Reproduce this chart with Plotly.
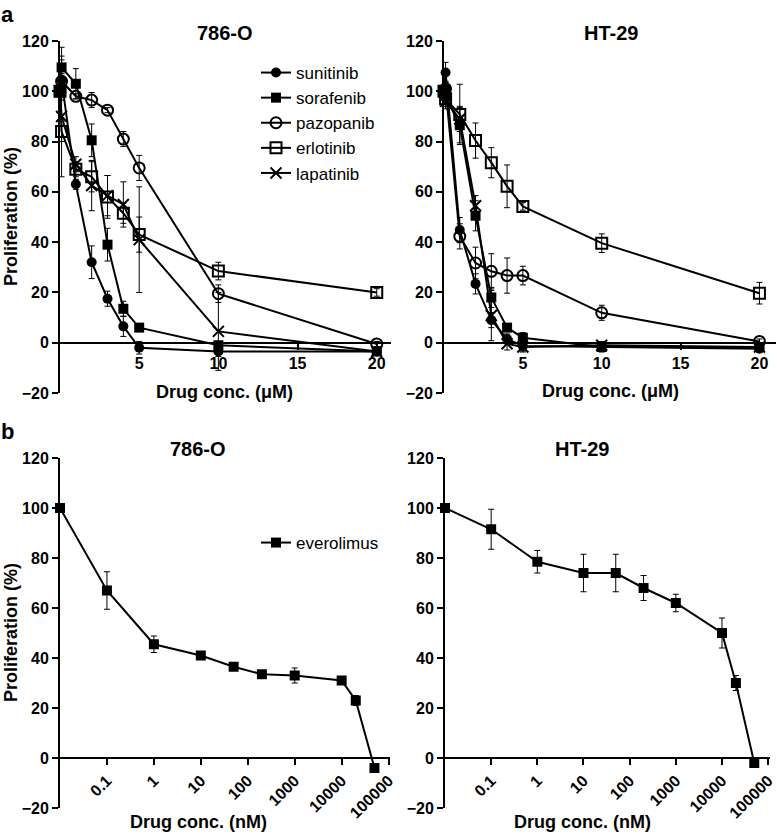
import plotly.graph_objects as go

W, H = 777, 834
FONT = "Liberation Sans, Arial, Helvetica, sans-serif"

# ---------------- data ----------------
conc_uM = [0, 0.1, 1, 2, 3, 4, 5, 10, 20]

# 786-O (panel a, left)
a786_sunitinib = [100, 104.5, 63, 32, 17.5, 6.5, -2, -3.5, -3.5]
a786_sunitinib_err = [0, 8, 2, 6.5, 3, 4, 2.5, 2, 1]
a786_sorafenib = [100, 109.5, 103, 80.5, 39, 13.5, 6, -1, -3.5]
a786_sorafenib_err = [0, 8, 6, 6.5, 6.5, 3, 1.5, 1, 1]
a786_pazopanib = [100, 104, 98, 96.5, 92.5, 81, 69.5, 19.5, -0.5]
a786_pazopanib_err = [0, 3, 1, 3, 1, 3, 5, 3.5, 1]
a786_erlotinib = [100, 84, 69, 66, 58, 51.5, 43, 28.5, 20]
a786_erlotinib_err = [0, 4, 3, 6, 8.5, 4, 7, 3.5, 1.5]
a786_lapatinib = [100, 90, 71, 62.5, 58.5, 55, 41, 4.5, -3.5]
a786_lapatinib_err = [0, 24, 3, 10, 8, 9, 21, 15.5, 1]

# HT-29 (panel a, right)
aht_sunitinib = [100, 107.5, 44.8, 23.4, 9, 1.5, -1.3, -1.7, -2.4]
aht_sunitinib_err = [0, 4, 5, 4, 3, 2, 2, 1.5, 1]
aht_sorafenib = [100, 98, 86.5, 50.5, 18, 6, 2, -1.7, -1.7]
aht_sorafenib_err = [0, 3, 7, 6, 4, 1.5, 2, 2, 1]
aht_pazopanib = [100, 101, 42.3, 31.7, 28.4, 26.7, 26.7, 11.9, 0.5]
aht_pazopanib_err = [0, 3, 5, 6.3, 7, 7, 3.7, 3, 1]
aht_erlotinib = [100, 97, 90.8, 80.4, 71.6, 62.2, 54.2, 39.6, 19.7]
aht_erlotinib_err = [0, 3, 12, 7, 6, 8.5, 1.5, 3.7, 4.3]
aht_lapatinib = [100, 96, 89, 54.5, 10.8, -0.4, -1.7, -1, -1.7]
aht_lapatinib_err = [0, 3, 5, 4, 10, 2.5, 2, 1.5, 1]

# everolimus (panel b)
conc_nM = [0.01, 0.1, 1, 10, 50, 200, 1000, 10000, 20000, 50000]
b786_everolimus = [100, 67, 45.5, 41, 36.5, 33.5, 33, 31, 23, -4]
b786_everolimus_err = [0, 7.5, 3.3, 1, 1.5, 1, 3, 1, 2, 1]
bht_everolimus = [100, 91.5, 78.5, 74, 74, 68, 62, 50, 30, -2]
bht_everolimus_err = [0, 8, 4.5, 7.5, 7.5, 5, 3.5, 6, 3, 1]

y_ticks = [-20, 0, 20, 40, 60, 80, 100, 120]
x_ticks_uM = [5, 10, 15, 20]
x_ticks_nM = [0.1, 1, 10, 100, 1000, 10000, 100000]
x_ticklabels_nM = ["0.1", "1", "10", "100", "1000", "10000", "100000"]

# ---------------- helpers ----------------
def px(x):
    return x / W

def py(y):
    return 1 - y / H

styles = {
    "sunitinib": dict(symbol="circle", size=10, color="black"),
    "sorafenib": dict(symbol="square", size=10, color="black"),
    "pazopanib": dict(symbol="circle-open", size=11, color="black", line=dict(width=2, color="black")),
    "erlotinib": dict(symbol="square-open", size=11, color="black", line=dict(width=2, color="black")),
    "lapatinib": dict(symbol="x-thin-open", size=11, color="black", line=dict(width=2, color="black")),
    "everolimus": dict(symbol="square", size=10, color="black"),
}

fig = go.Figure()

def add(name, x, y, err, xa, ya, show, legend="legend"):
    fig.add_trace(go.Scatter(
        x=x, y=y, name=name, mode="lines+markers",
        line=dict(color="black", width=2),
        marker=styles[name],
        error_y=dict(type="data", array=err, visible=True, color="black", thickness=1, width=3),
        xaxis=xa, yaxis=ya, showlegend=show, legend=legend, cliponaxis=False,
    ))

series_786 = [("sunitinib", a786_sunitinib, a786_sunitinib_err),
              ("sorafenib", a786_sorafenib, a786_sorafenib_err),
              ("pazopanib", a786_pazopanib, a786_pazopanib_err),
              ("erlotinib", a786_erlotinib, a786_erlotinib_err),
              ("lapatinib", a786_lapatinib, a786_lapatinib_err)]
series_ht = [("sunitinib", aht_sunitinib, aht_sunitinib_err),
             ("sorafenib", aht_sorafenib, aht_sorafenib_err),
             ("pazopanib", aht_pazopanib, aht_pazopanib_err),
             ("erlotinib", aht_erlotinib, aht_erlotinib_err),
             ("lapatinib", aht_lapatinib, aht_lapatinib_err)]

for n, y, e in series_786:
    add(n, conc_uM, y, e, "x", "y", True, "legend")
for n, y, e in series_ht:
    add(n, conc_uM, y, e, "x2", "y2", False, "legend")
add("everolimus", conc_nM, b786_everolimus, b786_everolimus_err, "x3", "y3", True, "legend2")
add("everolimus", conc_nM, bht_everolimus, bht_everolimus_err, "x4", "y4", False, "legend2")

# ---------------- axes ----------------
tickfont = dict(family=FONT, size=16, color="black", weight="bold")

def yax(top, bottom, anchor):
    return dict(domain=[py(bottom), py(top)], range=[-20, 120], tickvals=y_ticks,
                showline=True, linewidth=2, linecolor="black", ticks="outside",
                ticklen=6, tickwidth=2, tickcolor="black", showgrid=False, zeroline=False,
                tickfont=tickfont, anchor=anchor, fixedrange=True, automargin=False,
                ticklabeloverflow="allow")

def xax(left, right, rng, zero_y, **kw):
    d = dict(domain=[px(left), px(right)], range=rng, anchor="free", position=py(zero_y),
             showline=True, linewidth=2, linecolor="black", ticks="outside", ticklen=6,
             tickwidth=2, tickcolor="black", showgrid=False, zeroline=False,
             tickfont=tickfont, fixedrange=True, automargin=False,
             ticklabeloverflow="allow")
    d.update(kw)
    return d

top_t, top_b = 41, 393
bot_t, bot_b = 458, 808
zero_top = top_t + (120 / 140) * (top_b - top_t)
zero_bot = bot_t + (120 / 140) * (bot_b - bot_t)

fig.update_layout(
    xaxis=xax(60, 391, [0, 20.9], zero_top, tickvals=x_ticks_uM),
    yaxis=yax(top_t, top_b, "x"),
    xaxis2=xax(444, 776, [0, 21.05], zero_top, tickvals=x_ticks_uM),
    yaxis2=yax(top_t, top_b, "x2"),
    xaxis3=xax(60, 390, [-2, 5.03], zero_bot, type="log", tickvals=x_ticks_nM,
               ticktext=x_ticklabels_nM, tickangle=-45),
    yaxis3=yax(bot_t, bot_b, "x3"),
    xaxis4=xax(445, 770, [-2, 5.04], zero_bot, type="log", tickvals=x_ticks_nM,
               ticktext=x_ticklabels_nM, tickangle=-45),
    yaxis4=yax(bot_t, bot_b, "x4"),
)

# ---------------- legends ----------------
legfont = dict(family=FONT, size=17, color="black")
fig.update_layout(
    legend=dict(x=px(256), y=py(55), xanchor="left", yanchor="top", font=legfont,
                bgcolor="rgba(0,0,0,0)", tracegroupgap=0, itemwidth=30),
    legend2=dict(x=px(256), y=py(525), xanchor="left", yanchor="top", font=legfont,
                 bgcolor="rgba(0,0,0,0)", itemwidth=30),
)

# ---------------- text ----------------
ann = []
def text(x, y, s, size, bold=True, angle=0):
    ann.append(dict(x=px(x), y=py(y), xref="paper", yref="paper", text=s, showarrow=False,
                    xanchor="center", yanchor="middle", textangle=angle,
                    font=dict(family=FONT, size=size, color="black",
                              weight="bold" if bold else "normal")))

text(7, 14, "a", 22)
text(7, 431, "b", 22)
text(225, 33, "786-O", 20)
text(611, 33, "HT-29", 20)
text(198, 449, "786-O", 20)
text(582, 449, "HT-29", 20)
text(225, 392, "Drug conc. (μM)", 18)
text(610, 391, "Drug conc. (μM)", 18)
text(198, 822, "Drug conc. (nM)", 18)
text(582, 822, "Drug conc. (nM)", 18)
text(11, 217, "Proliferation (%)", 18, angle=-90)
text(11, 633, "Proliferation (%)", 18, angle=-90)

fig.update_layout(
    annotations=ann,
    width=W, height=H,
    margin=dict(l=0, r=0, t=0, b=0, pad=0, autoexpand=False),
    paper_bgcolor="white", plot_bgcolor="white",
    font=dict(family=FONT, color="black"),
)

fig.write_html("out.html", config={"displayModeBar": False},
               post_script="document.body.style.margin='0';document.body.style.overflow='hidden';")
